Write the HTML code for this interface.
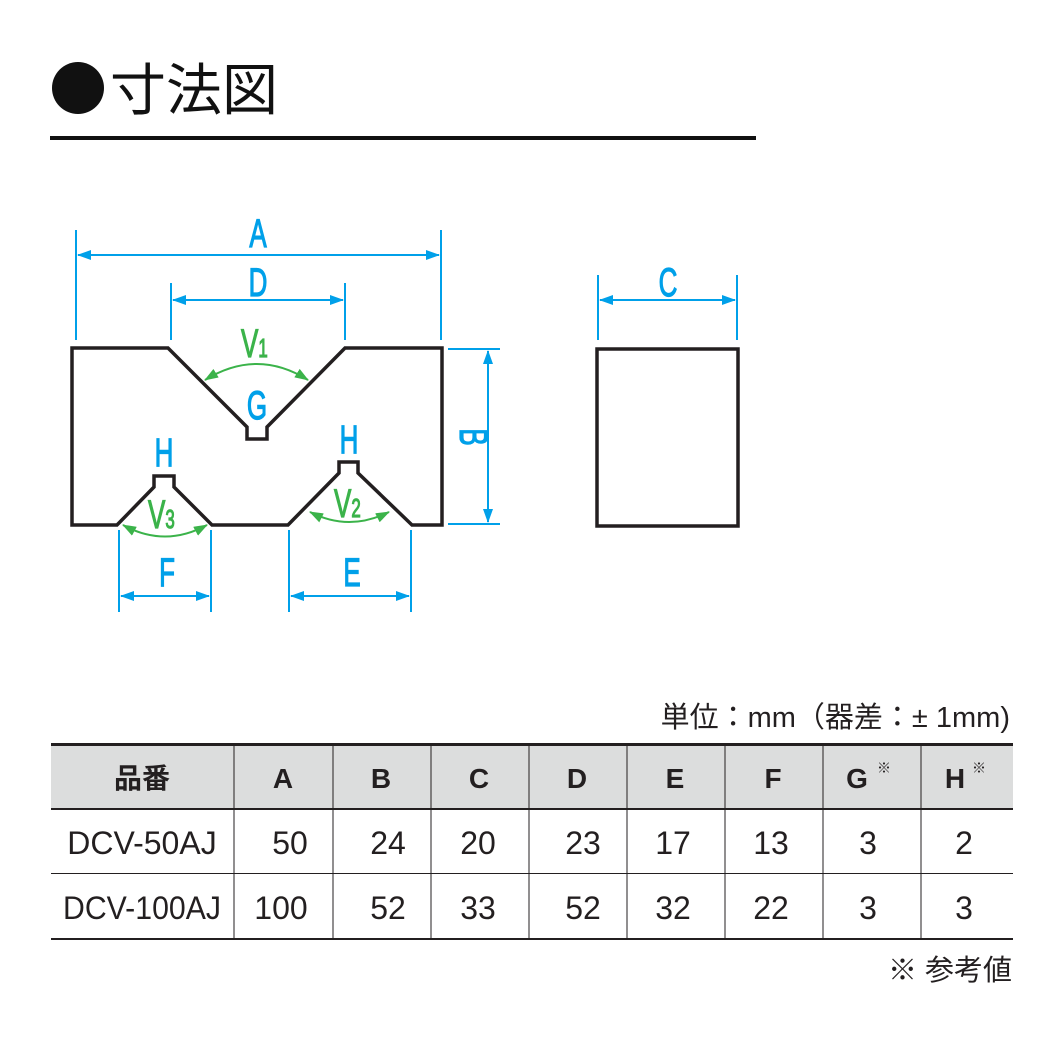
<!DOCTYPE html>
<html><head><meta charset="utf-8"><style>
body{margin:0;background:#fff;width:1050px;height:1050px;overflow:hidden;font-family:"Liberation Sans","Noto Sans CJK JP",sans-serif}
</style></head><body>
<svg width="1050" height="1050" viewBox="0 0 1050 1050" xmlns="http://www.w3.org/2000/svg">
<defs>
<marker id="ab" markerWidth="14" markerHeight="10" refX="13" refY="5" orient="auto-start-reverse" markerUnits="userSpaceOnUse"><path d="M0,0 L14,5 L0,10 Z" fill="#00a0e9"/></marker>
<marker id="ag" markerWidth="14" markerHeight="10" refX="13" refY="5" orient="auto-start-reverse" markerUnits="userSpaceOnUse"><path d="M0,0 L14,5 L0,10 Z" fill="#3bb34a"/></marker>
</defs>
<circle cx="78" cy="88" r="26" fill="#111"/>
<text x="110" y="110" font-size="56" font-family="Noto Sans CJK JP,sans-serif" fill="#111">寸法図</text>
<rect x="50" y="136" width="706" height="4" fill="#111"/>

<g stroke="#00a0e9" stroke-width="2" fill="none">
<line x1="76" y1="230" x2="76" y2="340"/><line x1="441" y1="230" x2="441" y2="340"/>
<line x1="171" y1="283" x2="171" y2="340"/><line x1="345" y1="283" x2="345" y2="340"/>
<line x1="78" y1="255" x2="439" y2="255" marker-start="url(#ab)" marker-end="url(#ab)"/>
<line x1="173" y1="300" x2="343" y2="300" marker-start="url(#ab)" marker-end="url(#ab)"/>
<line x1="448" y1="349" x2="500" y2="349"/><line x1="448" y1="524" x2="500" y2="524"/>
<line x1="488" y1="351" x2="488" y2="522" marker-start="url(#ab)" marker-end="url(#ab)"/>
<line x1="598" y1="275" x2="598" y2="340"/><line x1="737" y1="275" x2="737" y2="340"/>
<line x1="600" y1="300" x2="735" y2="300" marker-start="url(#ab)" marker-end="url(#ab)"/>
<line x1="119" y1="530" x2="119" y2="612"/><line x1="211" y1="530" x2="211" y2="612"/>
<line x1="121" y1="596" x2="209" y2="596" marker-start="url(#ab)" marker-end="url(#ab)"/>
<line x1="289" y1="530" x2="289" y2="612"/><line x1="411" y1="530" x2="411" y2="612"/>
<line x1="291" y1="596" x2="409" y2="596" marker-start="url(#ab)" marker-end="url(#ab)"/>
</g>
<g fill="#00a0e9" stroke="#00a0e9" stroke-width="1.2" font-size="40" text-anchor="middle">
<text transform="translate(258,247) scale(0.65,1)">A</text>
<text transform="translate(258,296) scale(0.65,1)">D</text>
<text transform="translate(668,296) scale(0.65,1)">C</text>
<text transform="translate(167,586) scale(0.65,1)">F</text>
<text transform="translate(352,586) scale(0.65,1)">E</text>
<text transform="translate(257,419) scale(0.65,1)">G</text>
<text transform="translate(164,466) scale(0.65,1)">H</text>
<text transform="translate(349,453) scale(0.65,1)">H</text>
<text transform="translate(460,437) rotate(90) scale(0.65,1)">B</text>
</g>
<path d="M72,348 L168,348 L247,427 L247,439 L267,439 L267,427 L345,348 L442,348 L442,525 L412,525 L358,473 L358,462 L339,462 L339,473 L288,525 L212,525 L174,487 L174,476 L154,476 L154,487 L117,525 L72,525 Z" fill="none" stroke="#231f20" stroke-width="3.5"/>
<rect x="597" y="349" width="141" height="177" fill="none" stroke="#231f20" stroke-width="3.5"/>
<g stroke="#3bb34a" stroke-width="2" fill="none">
<path d="M205,380 Q257,348 308,380" marker-start="url(#ag)" marker-end="url(#ag)"/>
<path d="M310,512 Q349,532 389,512" marker-start="url(#ag)" marker-end="url(#ag)"/>
<path d="M123,525 Q165,548 207,525" marker-start="url(#ag)" marker-end="url(#ag)"/>
</g>
<g fill="#3bb34a" stroke="#3bb34a" stroke-width="1.2">
<text transform="translate(241,357) scale(0.65,1)" font-size="40">V<tspan font-size="26">1</tspan></text>
<text transform="translate(334,517) scale(0.65,1)" font-size="40">V<tspan font-size="26">2</tspan></text>
<text transform="translate(148,528) scale(0.65,1)" font-size="40">V<tspan font-size="26">3</tspan></text>
</g>

<text x="1010" y="727" font-size="29" text-anchor="end" fill="#231f20">単位：mm（器差：± 1mm)</text>
<rect x="51" y="746" width="962" height="63" fill="#dcdddd"/>
<rect x="51" y="743" width="962" height="3" fill="#231f20"/>
<rect x="51" y="808" width="962" height="2" fill="#231f20"/>
<rect x="51" y="873" width="962" height="1" fill="#231f20"/>
<rect x="51" y="938" width="962" height="2" fill="#231f20"/>
<g stroke="#231f20" stroke-width="1">
<line x1="234" y1="746" x2="234" y2="939"/><line x1="333" y1="746" x2="333" y2="939"/>
<line x1="431" y1="746" x2="431" y2="939"/><line x1="529" y1="746" x2="529" y2="939"/>
<line x1="627" y1="746" x2="627" y2="939"/><line x1="725" y1="746" x2="725" y2="939"/>
<line x1="823" y1="746" x2="823" y2="939"/><line x1="921" y1="746" x2="921" y2="939"/>
</g>
<g font-size="28" font-weight="bold" text-anchor="middle" fill="#231f20">
<text x="142" y="788">品番</text><text x="283" y="788">A</text><text x="381" y="788">B</text>
<text x="479" y="788">C</text><text x="577" y="788">D</text><text x="675" y="788">E</text>
<text x="773" y="788">F</text><text x="857" y="788">G</text><text x="955" y="788">H</text>
</g>
<text x="877" y="773" font-size="14" fill="#231f20">※</text>
<text x="972" y="773" font-size="14" fill="#231f20">※</text>
<g font-size="32" fill="#231f20" text-anchor="middle">
<text x="142" y="854">DCV-50AJ</text><text x="290" y="854">50</text><text x="388" y="854">24</text>
<text x="478" y="854">20</text><text x="583" y="854">23</text><text x="673" y="854">17</text>
<text x="771" y="854">13</text><text x="868" y="854">3</text><text x="964" y="854">2</text>
<text x="142" y="919" textLength="158" lengthAdjust="spacingAndGlyphs">DCV-100AJ</text><text x="281" y="919">100</text><text x="388" y="919">52</text>
<text x="478" y="919">33</text><text x="583" y="919">52</text><text x="673" y="919">32</text>
<text x="771" y="919">22</text><text x="868" y="919">3</text><text x="964" y="919">3</text>
</g>
<text x="1012" y="980" font-size="29" text-anchor="end" fill="#231f20">※ 参考値</text>
</svg>
</body></html>
